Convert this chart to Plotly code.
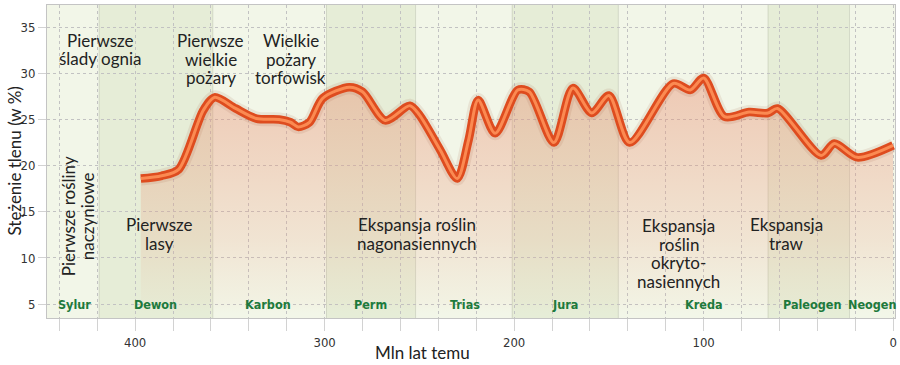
import plotly.graph_objects as go

# --- data -------------------------------------------------------------
ages = [397, 386, 377, 364, 358, 347, 336, 324, 318, 314, 308, 301, 287, 280,
        268, 255, 250, 239, 230, 224, 219, 210, 198, 192, 179, 169, 159, 150, 139,
        116, 107, 100, 89, 76, 66, 61, 38, 31, 19, 0]
oxygen = [18.6, 18.9, 19.6, 26.0, 27.4, 26.2, 25.1, 25.0, 24.7, 24.2, 24.7, 27.3,
          28.5, 28.0, 24.9, 26.5, 25.5, 21.7, 18.6, 22.8, 27.1, 23.5, 28.2, 28.0, 22.5,
          28.4, 25.7, 27.6, 22.5, 28.9, 28.2, 29.5, 25.3, 25.8, 25.7, 26.2, 21.1, 22.4,
          20.9, 22.2]

periods = ["Sylur", "Dewon", "Karbon", "Perm", "Trias", "Jura", "Kreda", "Paleogen", "Neogen"]
period_start = [446.5, 419, 359, 299, 252, 201, 145, 66, 23]
period_end = [419, 359, 299, 252, 201, 145, 66, 23, -1]
period_label_x = [432, 389, 330, 276, 226, 173, 100, 43, 11]

x_ticks = [400, 300, 200, 100, 0]
y_ticks = [5, 10, 15, 20, 25, 30, 35]

notes = [
    (["Pierwsze", "ślady ognia"], 418.5, 32.6),
    (["Pierwsze", "wielkie", "pożary"], 360, 31.5),
    (["Wielkie", "pożary", "torfowisk"], 318, 31.5),
    (["Pierwsze", "lasy"], 387, 12.6),
    (["Ekspansja roślin", "nagonasiennych"], 251, 12.6),
    (["Ekspansja", "roślin", "okryto-", "nasiennych"], 113, 10.5),
    (["Ekspansja", "traw"], 56, 12.6),
]
vertical_note = (["Pierwsze rośliny", "naczyniowe"], 430, 14.5)

# --- figure -----------------------------------------------------------
TEXT_FONT = "Lato, 'Noto Sans', sans-serif"
COND_FONT = "'Liberation Sans Narrow', 'DejaVu Sans Condensed', Lato, sans-serif"
TXT_COLOR = "#222222"

fig = go.Figure()

# fill + soft shadow
fig.add_trace(go.Scatter(
    x=ages, y=oxygen, mode="lines",
    line=dict(color="rgba(150,70,40,0.10)", width=14, shape="spline", smoothing=0.8),
    fill="tozeroy",
    fillgradient=dict(
        type="vertical", start=4, stop=29,
        colorscale=[[0, "rgba(240,190,150,0)"], [0.05, "rgba(238,170,135,0.06)"],
                    [0.32, "rgba(235,155,125,0.20)"], [0.64, "rgba(235,150,120,0.32)"],
                    [1, "rgba(232,140,110,0.42)"]]),
    hoverinfo="skip", showlegend=False))
fig.add_trace(go.Scatter(
    x=ages, y=oxygen, mode="lines",
    line=dict(color="#de4c1f", width=8.5, shape="spline", smoothing=0.8),
    hoverinfo="skip", showlegend=False))
fig.add_trace(go.Scatter(
    x=ages, y=oxygen, mode="lines",
    line=dict(color="#fb8a52", width=3, shape="spline", smoothing=0.8),
    hoverinfo="skip", showlegend=False))

# period background bands
band_colors = ["#f2f6e8", "#e6edd7"]
for i, (s, e) in enumerate(zip(period_start, period_end)):
    fig.add_shape(type="rect", x0=s, x1=e, y0=0, y1=1, xref="x", yref="paper",
                  fillcolor=band_colors[i % 2], line=dict(width=0), layer="below")
    if i > 0:
        fig.add_shape(type="line", x0=s, x1=s, y0=0, y1=1, xref="x", yref="paper",
                      line=dict(color="rgba(160,165,150,0.35)", width=1), layer="below")

annotations = []
for name, lx in zip(periods, period_label_x):
    annotations.append(dict(x=lx, y=5, xref="x", yref="y", text="<b>%s</b>" % name,
                            showarrow=False, xanchor="center", yanchor="middle",
                            font=dict(family=COND_FONT, size=12.5, color="#1d7a3c")))

LINE_H = 18.5
for lines, nx, ny in notes:
    n = len(lines)
    for i, t in enumerate(lines):
        annotations.append(dict(x=nx, y=ny, xref="x", yref="y", text=t, showarrow=False,
                                xanchor="center", yanchor="middle",
                                yshift=((n - 1) / 2 - i) * LINE_H,
                                font=dict(family=TEXT_FONT, size=17, color=TXT_COLOR)))

vlines, vx, vy = vertical_note
for i, t in enumerate(vlines):
    annotations.append(dict(x=vx, y=vy, xref="x", yref="y", text=t, showarrow=False,
                            textangle=-90, xanchor="center", yanchor="middle",
                            xshift=(i - (len(vlines) - 1) / 2) * 19,
                            font=dict(family=TEXT_FONT, size=17, color=TXT_COLOR)))

annotations.append(dict(x=(14 - 47) / 848, y=0.5, xref="paper", yref="paper",
                        text="Stężenie tlenu (w %)", showarrow=False, textangle=-90,
                        xanchor="center", yanchor="middle",
                        font=dict(family=TEXT_FONT, size=17, color=TXT_COLOR)))
annotations.append(dict(x=(422 - 47) / 848, y=-(352 - 318) / 313, xref="paper", yref="paper",
                        text="Mln lat temu", showarrow=False,
                        xanchor="center", yanchor="middle",
                        font=dict(family=TEXT_FONT, size=17, color=TXT_COLOR)))

fig.update_layout(
    width=900, height=365,
    margin=dict(l=47, r=5, t=5, b=47),
    paper_bgcolor="white", plot_bgcolor="#f2f6e8",
    annotations=annotations,
    showlegend=False,
)
fig.update_xaxes(
    range=[446.5, -1], tickvals=x_ticks, ticktext=[str(v) for v in x_ticks],
    automargin=False,
    showgrid=True, gridcolor="#c2c2c2", griddash="dot", gridwidth=1,
    ticks="outside", ticklen=12, tickcolor="#d2d2d2", tickwidth=1,
    minor=dict(dtick=20, tick0=0, showgrid=True, gridcolor="#c2c2c2", griddash="dot",
               ticks="outside", ticklen=12, tickcolor="#d2d2d2"),
    showline=True, linecolor="#c4c4c4", linewidth=1, mirror=True,
    tickfont=dict(family=COND_FONT, size=13, color="#333333"),
    zeroline=False,
)
fig.update_yaxes(
    range=[3.5, 37.4], tickvals=y_ticks, automargin=False,
    showgrid=True, gridcolor="#c2c2c2", griddash="dot", gridwidth=1,
    ticks="outside", ticklen=8, tickcolor="#d2d2d2",
    showline=True, linecolor="#c4c4c4", linewidth=1, mirror=True,
    tickfont=dict(family=COND_FONT, size=13, color="#333333"),
    zeroline=False,
)

fig.write_html("out.html", config={"displayModeBar": False},
               post_script="document.body.style.margin='0';document.body.style.overflow='hidden';")
